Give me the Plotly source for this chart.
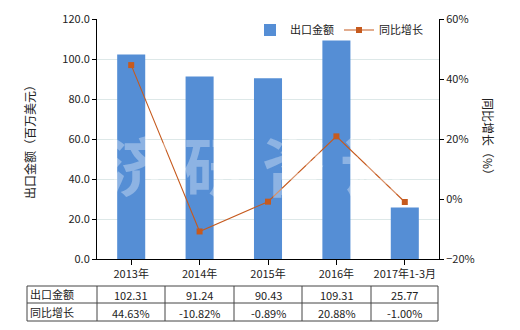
import plotly.graph_objects as go

categories = ["2013年", "2014年", "2015年", "2016年", "2017年1-3月"]
export_values = [102.31, 91.24, 90.43, 109.31, 25.77]
growth_values = [44.63, -10.82, -0.89, 20.88, -1.00]
row_names = ["出口金额", "同比增长"]
export_labels = ["102.31", "91.24", "90.43", "109.31", "25.77"]
growth_labels = ["44.63%", "-10.82%", "-0.89%", "20.88%", "-1.00%"]

W, H = 520, 330
x0, x1 = 97, 439
y_top, y_bot = 19, 259
font = "Noto Sans CJK SC"
bar_color = "#558ED5"
line_color = "#C65A1E"

def px(x):
    return x / W

def py(y):
    return 1 - y / H

def note(text, x, y, size=11, angle=0, xanchor="center", color="#222"):
    fig.add_annotation(text=text, x=px(x), y=py(y), xref="paper", yref="paper",
                       xanchor=xanchor, yanchor="middle", textangle=angle, showarrow=False,
                       font=dict(size=size, color=color, family=font))

fig = go.Figure()
fig.add_trace(go.Bar(x=categories, y=export_values, name="出口金额",
                     marker=dict(color=bar_color, line=dict(width=0)), width=0.41))
fig.add_trace(go.Scatter(x=categories, y=growth_values, name="同比增长", yaxis="y2",
                         mode="lines+markers", line=dict(color=line_color, width=1.1),
                         marker=dict(symbol="square", size=6, color=line_color)))

fig.update_layout(
    width=W, height=H, margin=dict(l=0, r=0, t=0, b=0, autoexpand=False),
    paper_bgcolor="white", plot_bgcolor="white",
    font=dict(family=font, size=11, color="#222"),
    showlegend=True,
    legend=dict(orientation="h", x=px(250), y=py(30), xanchor="left", yanchor="middle",
                bgcolor="rgba(0,0,0,0)", font=dict(size=11, color="#222"),
                itemwidth=30, tracegroupgap=0),
    xaxis=dict(domain=[px(x0), px(x1)], showline=True, linecolor="black", linewidth=1,
               ticks="outside", ticklen=5, tickcolor="black", showgrid=False, automargin=False,
               tickfont=dict(size=11, color="#222")),
    yaxis=dict(domain=[py(y_bot), py(y_top)], range=[0, 120], dtick=20, tickformat=".1f",
               showline=True, linecolor="black", linewidth=1, ticks="outside", ticklen=4,
               tickcolor="black", showgrid=True, gridcolor="#DDE8E8", gridwidth=1,
               zeroline=False, automargin=False, tickfont=dict(size=11, color="#222")),
    yaxis2=dict(overlaying="y", side="right", range=[-20, 60], dtick=20, ticksuffix="%",
                showline=True, linecolor="black", linewidth=1, ticks="outside", ticklen=4,
                tickcolor="black", showgrid=False, zeroline=False, anchor="x", automargin=False,
                tickfont=dict(size=11, color="#222")),
)

# axis titles
note("出口金额（百万美元）", 30, 139, size=12, angle=-90)
note("同比增长（%）", 488, 139, size=12, angle=90)

# watermark
note("<b>济 研 咨 询</b>", 255, 163, size=64, color="rgba(255,255,255,0.33)")

# table
cols = [27, 97, 165, 234, 302, 371, 438]
rows = [286, 303, 321]
lc = "#444"
for x in cols:
    fig.add_shape(type="line", xref="paper", yref="paper", x0=px(x), x1=px(x),
                  y0=py(rows[0]), y1=py(rows[-1]), line=dict(color=lc, width=1))
for y in rows:
    fig.add_shape(type="line", xref="paper", yref="paper", x0=px(cols[0]), x1=px(cols[-1]),
                  y0=py(y), y1=py(y), line=dict(color=lc, width=1))
for r, name in enumerate(row_names):
    yc = (rows[r] + rows[r + 1]) / 2
    note(name, cols[0] + 1, yc - 0.5, xanchor="left")
    labels = export_labels if r == 0 else growth_labels
    for i, t in enumerate(labels):
        xc = (cols[i + 1] + cols[i + 2]) / 2
        note(t, xc, yc + 0.5)

fig.write_html("out.html")
